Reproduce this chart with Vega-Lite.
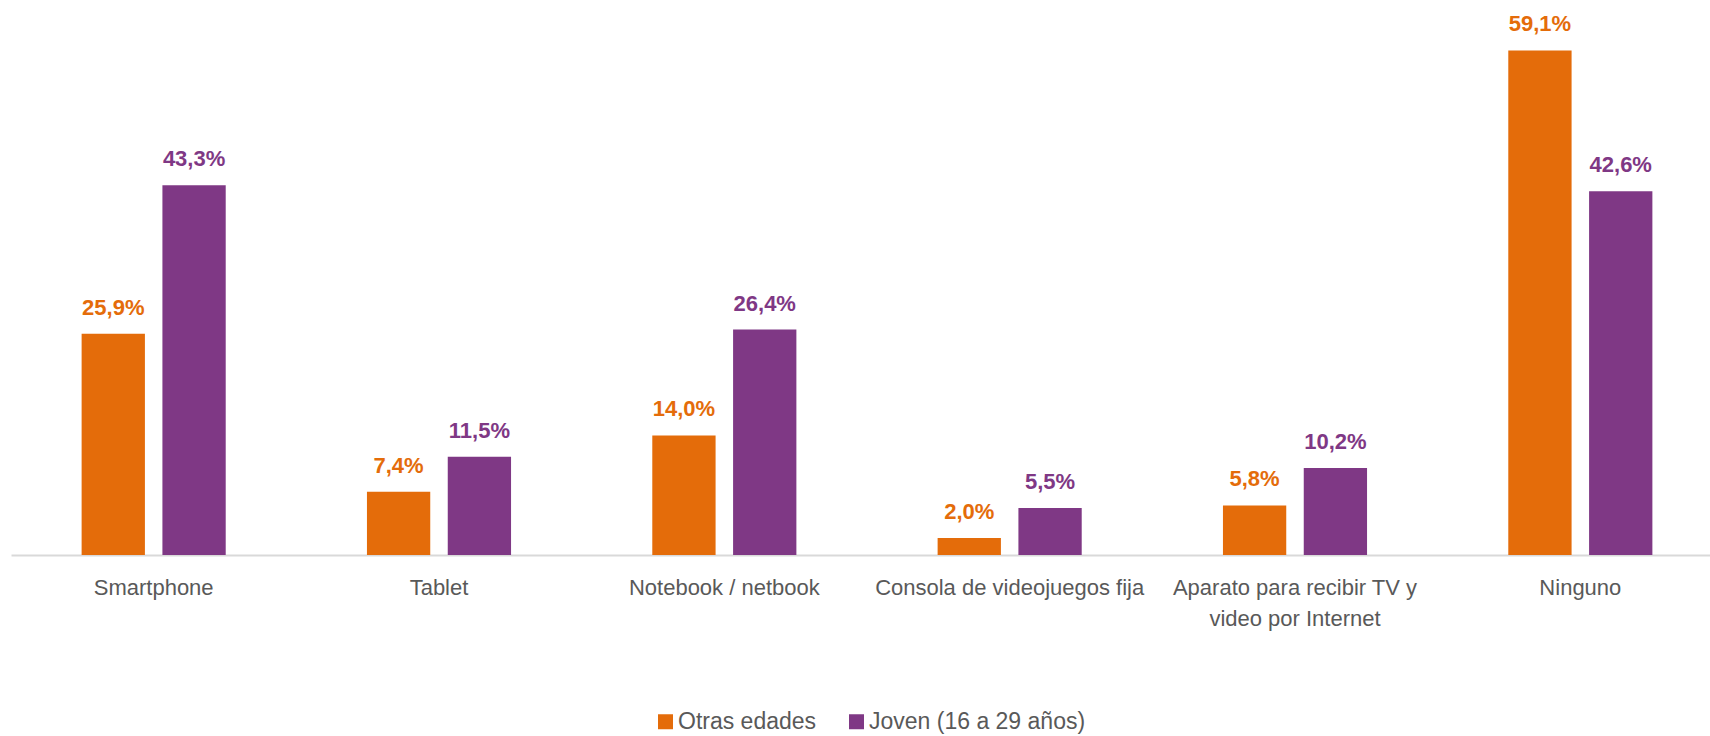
{
  "$schema": "https://vega.github.io/schema/vega-lite/v6.json",
  "autosize": {"type": "none"},
  "padding": {"left": 10, "top": 0, "right": 0, "bottom": 181},
  "width": 1700,
  "height": 555,
  "background": "white",
  "data": {
    "values": [
      {"device": "Smartphone", "group": "Otras edades", "value": 25.9},
      {"device": "Smartphone", "group": "Joven (16 a 29 años)", "value": 43.3},
      {"device": "Tablet", "group": "Otras edades", "value": 7.4},
      {"device": "Tablet", "group": "Joven (16 a 29 años)", "value": 11.5},
      {"device": "Notebook / netbook", "group": "Otras edades", "value": 14.0},
      {"device": "Notebook / netbook", "group": "Joven (16 a 29 años)", "value": 26.4},
      {"device": "Consola de videojuegos fija", "group": "Otras edades", "value": 2.0},
      {"device": "Consola de videojuegos fija", "group": "Joven (16 a 29 años)", "value": 5.5},
      {"device": "Aparato para recibir TV y video por Internet", "group": "Otras edades", "value": 5.8},
      {"device": "Aparato para recibir TV y video por Internet", "group": "Joven (16 a 29 años)", "value": 10.2},
      {"device": "Ninguno", "group": "Otras edades", "value": 59.1},
      {"device": "Ninguno", "group": "Joven (16 a 29 años)", "value": 42.6}
    ]
  },
  "transform": [
    {"calculate": "replace(format(datum.value, '.1f'), '.', ',') + '%'", "as": "label"}
  ],
  "encoding": {
    "x": {
      "field": "device",
      "type": "nominal",
      "sort": null,
      "title": null,
      "scale": {"paddingInner": 0.495, "paddingOuter": 0.2475, "range": [1, 1713]},
      "axis": {
        "labelAngle": 0,
        "ticks": false,
        "domainColor": "#D9D9D9",
        "domainWidth": 2,
        "labelColor": "#595959",
        "labelFont": "Liberation Sans",
        "labelFontSize": 22,
        "labelPadding": 22,
        "labelLineHeight": 31,
        "labelLimit": 400,
        "labelExpr": "datum.label == 'Aparato para recibir TV y video por Internet' ? ['Aparato para recibir TV y', 'video por Internet'] : datum.label"
      }
    },
    "xOffset": {
      "field": "group",
      "type": "nominal",
      "sort": ["Otras edades", "Joven (16 a 29 años)"],
      "scale": {"paddingInner": 0.2166, "paddingOuter": 0}
    },
    "y": {
      "field": "value",
      "type": "quantitative",
      "scale": {"domain": [0, 65], "nice": false},
      "axis": null
    },
    "color": {
      "field": "group",
      "type": "nominal",
      "sort": ["Otras edades", "Joven (16 a 29 años)"],
      "scale": {"domain": ["Otras edades", "Joven (16 a 29 años)"], "range": ["#E46C0A", "#7F3885"]},
      "legend": {
        "title": null,
        "orient": "none",
        "direction": "horizontal",
        "legendX": 644,
        "legendY": 710,
        "symbolType": "square",
        "symbolSize": 225,
        "symbolStrokeWidth": 0,
        "symbolOpacity": 1,
        "labelFont": "Liberation Sans",
        "labelFontSize": 23,
        "labelColor": "#595959",
        "labelOffset": 1,
        "labelLimit": 400,
        "columnPadding": 28,
        "padding": 0
      }
    }
  },
  "layer": [
    {"mark": {"type": "bar"}},
    {
      "mark": {
        "type": "text",
        "font": "Liberation Sans",
        "fontWeight": "bold",
        "fontSize": 22,
        "baseline": "middle",
        "dy": -26
      },
      "encoding": {"text": {"field": "label"}}
    }
  ],
  "config": {"view": {"stroke": null}}
}
